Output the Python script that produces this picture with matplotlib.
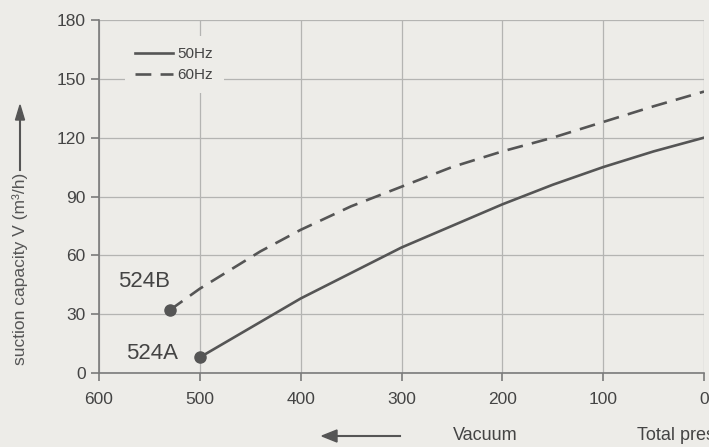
import numpy as np
import matplotlib.pyplot as plt

plt.rcParams['font.family'] = ['Liberation Sans', 'DejaVu Sans']

# values
p_50 = [500, 450, 400, 350, 300, 250, 200, 150, 100, 50, 0]
v_50 = [8, 23, 38, 51, 64, 75, 86, 96, 105, 113, 120]
p_60 = [530, 500, 440, 400, 350, 300, 250, 200, 150, 100, 50, 0]
v_60 = [32, 43, 62, 73, 85, 95, 105, 113, 120, 128, 136, 143.5]
x_ticks = [600, 500, 400, 300, 200, 100, 0]
y_ticks = [0, 30, 60, 90, 120, 150, 180]

bg = '#edece8'
ink = '#555555'
txt = '#444444'

fig = plt.figure(figsize=(7.09, 4.47), dpi=100, facecolor=bg)
ax = fig.add_axes([0.1396, 0.1655, 0.8534, 0.7898], facecolor=bg)

ax.set_xlim(600, 0)
ax.set_ylim(0, 180)
ax.set_xticks(x_ticks)
ax.set_yticks(y_ticks)
ax.grid(True, color='#b4b4b2', linewidth=0.9)
ax.set_axisbelow(True)
for s in ['top', 'right']:
    ax.spines[s].set_visible(False)
for s in ['left', 'bottom']:
    ax.spines[s].set_color('#7a7a7a')
    ax.spines[s].set_linewidth(1.2)
ax.tick_params(colors='#7a7a7a', labelcolor=txt, labelsize=12.5, length=6, width=1.2)
ax.tick_params(axis='x', pad=8)

l50, = ax.plot(p_50, v_50, color=ink, linewidth=1.9, label='50Hz')
l60, = ax.plot(p_60, v_60, color=ink, linewidth=1.9, linestyle=(0, (6, 3.5)), label='60Hz')
ax.plot(p_50[0], v_50[0], 'o', color=ink, markersize=8, zorder=5)
ax.plot(p_60[0], v_60[0], 'o', color=ink, markersize=8, zorder=5)

ax.text(p_60[0], v_60[0] + 14.5, '524B', fontsize=16, color=txt, ha='right', va='center')
ax.text(p_50[0] + 22, v_50[0] + 2, '524A', fontsize=16, color=txt, ha='right', va='center')

leg = ax.legend(loc='upper left', bbox_to_anchor=(0.03, 0.975), frameon=True, fontsize=11,
                handlelength=2.45, handletextpad=0.3, labelspacing=0.45, borderpad=0.7,
                labelcolor=txt)
leg.get_frame().set_facecolor(bg)
leg.get_frame().set_edgecolor('none')
leg.get_frame().set_alpha(1)

# y axis caption with arrow
fig.text(20 / 709, 1 - 269 / 447, 'suction capacity V (m³/h)', rotation=90, fontsize=12.5,
         color='#555555', ha='center', va='center')
fig.add_artist(plt.Line2D([20 / 709, 20 / 709], [1 - 170 / 447, 1 - 118 / 447],
                          color=ink, linewidth=1.5))
fig.patches.append(plt.Polygon([[15.5 / 709, 1 - 120 / 447], [24.5 / 709, 1 - 120 / 447],
                                [20 / 709, 1 - 105 / 447]], closed=True, color=ink,
                               transform=fig.transFigure, figure=fig))

# bottom caption
ya = 1 - 436 / 447
fig.add_artist(plt.Line2D([336 / 709, 400 / 709], [ya, ya], color=ink, linewidth=1.5))
fig.patches.append(plt.Polygon([[337 / 709, ya + 6 / 447], [337 / 709, ya - 6 / 447],
                                [322 / 709, ya]], closed=True, color=ink,
                               transform=fig.transFigure, figure=fig))
fig.text(453 / 709, ya, 'Vacuum', fontsize=13, color=txt, ha='left', va='center')
fig.text(637 / 709, ya, 'Total pressure', fontsize=13, color=txt, ha='left', va='center')

fig.savefig('out.png', dpi=100, facecolor=bg)
